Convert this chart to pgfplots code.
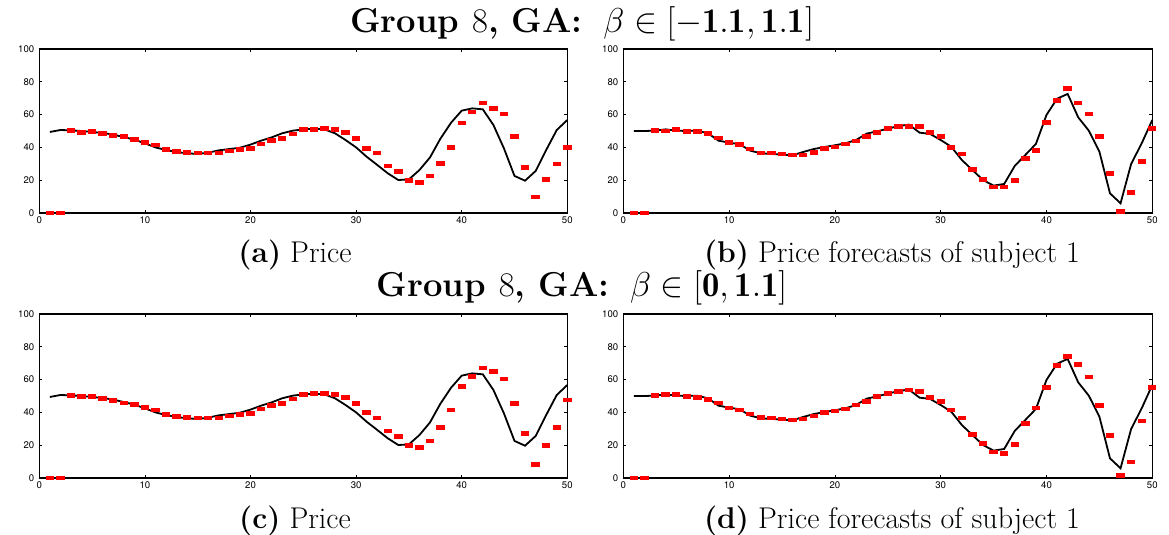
\documentclass[border=0pt]{standalone}
\usepackage{pgfplots}
\pgfplotsset{compat=1.18}
\usepackage{fontspec}
\newfontfamily\tickfont{TeX Gyre Heros}
\pgfdeclareplotmark{rbar}{\pgfpathrectangle{\pgfpoint{-2.1pt}{-1.1pt}}{\pgfpoint{4.2pt}{2.2pt}}\pgfusepathqfill}
\pgfplotsset{panel/.style={
  scale only axis, width=264pt, height=82pt, anchor=south west,
  xmin=0, xmax=50, ymin=0, ymax=100,
  xtick={0,10,...,50}, ytick={0,20,...,100},
  tick align=inside, major tick length=1.5pt,
  tick style={black, line width=0.4pt},
  axis line style={line width=0.6pt},
  tick label style={font=\tickfont\fontsize{4.8}{5}\selectfont},
  /pgf/number format/assume math mode=true,
  xticklabel style={yshift=1.5pt},
  yticklabel style={xshift=1pt},
  clip=false,
}}
\pgfplotstableread{
x y
1 49.4
2 50.6
3 50.4
4 50.0
5 49.4
6 48.8
7 47.8
8 46.3
9 44.7
10 42.5
11 40.0
12 38.4
13 37.2
14 36.4
15 36.0
16 36.8
17 38.2
18 39.0
19 39.8
20 41.7
21 44.1
22 46.1
23 48.6
24 50.2
25 51.0
26 51.4
27 51.0
28 48.6
29 44.5
30 40.0
31 34.3
32 29.3
33 24.2
34 20.1
35 20.5
36 26.2
37 33.9
38 45.5
39 55.1
40 62.4
41 63.8
42 63.2
43 53.7
44 39.4
45 22.6
46 19.7
47 25.6
48 38.4
49 50.6
50 56.7
}\priceline
\pgfplotstableread{
x y
1 50.0
2 50.0
3 50.2
4 51.0
5 50.2
6 50.0
7 50.2
8 48.6
9 44.1
10 42.9
11 41.9
12 38.0
13 36.4
14 36.0
15 35.6
16 35.2
17 37.2
18 39.0
19 40.2
20 41.3
21 42.5
22 44.5
23 48.4
24 49.8
25 51.4
26 53.0
27 53.9
28 49.0
29 48.2
30 44.5
31 40.4
32 32.3
33 26.2
34 20.1
35 16.7
36 17.7
37 28.7
38 35.4
39 42.1
40 59.8
41 69.7
42 72.6
43 58.3
44 50.2
45 37.4
46 12.0
47 5.9
48 29.9
49 42.5
50 56.7
}\forecastline
\pgfplotstableread{
x y
1 0
2 0
3 50.4
4 49.2
5 49.8
6 48.4
7 47.2
8 46.7
9 44.9
10 43.1
11 41.3
12 38.8
13 37.6
14 36.8
15 36.4
16 36.4
17 36.4
18 37.8
19 38.8
20 39.4
21 41.9
22 44.3
23 45.5
24 48.0
25 51.0
26 51.0
27 51.6
28 51.0
29 49.2
30 45.5
31 39.4
32 36.4
33 28.5
34 25.4
35 19.9
36 18.7
37 22.4
38 30.3
39 40.0
40 54.7
41 61.4
42 66.9
43 63.8
44 60.2
45 46.7
46 27.8
47 9.6
48 20.5
49 29.7
50 40.0
}\reda
\pgfplotstableread{
x y
1 0
2 0
3 50.4
4 50.0
5 50.8
6 49.8
7 49.8
8 48.4
9 45.9
10 43.1
11 41.7
12 39.2
13 36.4
14 36.4
15 35.8
16 35.2
17 35.2
18 37.0
19 39.4
20 40.2
21 41.9
22 43.9
23 46.7
24 49.2
25 51.6
26 52.8
27 52.8
28 52.8
29 49.2
30 46.7
31 40.0
32 35.8
33 26.6
34 20.5
35 15.9
36 15.9
37 19.9
38 33.3
39 38.2
40 55.3
41 68.7
42 76.0
43 66.9
44 60.2
45 46.7
46 24.2
47 0.8
48 12.6
49 31.5
50 51.6
}\redb
\pgfplotstableread{
x y
1 0
2 0
3 50.4
4 49.8
5 49.8
6 48.4
7 47.2
8 45.9
9 44.9
10 43.1
11 41.3
12 38.8
13 37.6
14 36.8
15 36.4
16 36.4
17 36.4
18 37.8
19 38.8
20 39.4
21 41.9
22 44.3
23 45.5
24 48.0
25 51.0
26 51.6
27 51.6
28 51.0
29 49.2
30 45.5
31 40.0
32 36.4
33 28.5
34 25.4
35 19.9
36 18.7
37 22.4
38 30.9
39 41.3
40 55.9
41 62.0
42 66.9
43 65.0
44 60.2
45 45.5
46 27.2
47 8.3
48 19.9
49 30.9
50 47.4
}\redc
\pgfplotstableread{
x y
1 0
2 0
3 50.4
4 51.0
5 50.8
6 49.8
7 49.2
8 47.8
9 45.9
10 42.5
11 41.3
12 39.2
13 37.0
14 36.4
15 35.8
16 35.2
17 35.8
18 37.8
19 40.0
20 40.9
21 41.9
22 44.5
23 46.7
24 49.8
25 51.6
26 52.8
27 53.5
28 52.8
29 49.2
30 46.7
31 41.3
32 36.4
33 26.6
34 21.1
35 15.9
36 15.0
37 20.5
38 33.3
39 42.5
40 55.3
41 68.7
42 74.2
43 69.3
44 61.4
45 44.3
46 26.0
47 1.6
48 9.6
49 34.6
50 55.3
}\redd
\begin{document}
\begin{tikzpicture}
\path[use as bounding box] (0,0) rectangle (584.5pt,267.5pt);
\begin{axis}[panel, at={(19.65pt,161pt)}]
\addplot[black, line width=0.9pt] table[x=x,y=y] {\priceline};
\addplot[only marks, mark=rbar, red] table[x=x,y=y] {\reda};
\end{axis}
\begin{axis}[panel, at={(311.65pt,161pt)}, width=264.5pt]
\addplot[black, line width=0.9pt] table[x=x,y=y] {\forecastline};
\addplot[only marks, mark=rbar, red] table[x=x,y=y] {\redb};
\end{axis}
\begin{axis}[panel, at={(19.65pt,28.5pt)}]
\addplot[black, line width=0.9pt] table[x=x,y=y] {\priceline};
\addplot[only marks, mark=rbar, red] table[x=x,y=y] {\redc};
\end{axis}
\begin{axis}[panel, at={(311.65pt,28.5pt)}, width=264.5pt]
\addplot[black, line width=0.9pt] table[x=x,y=y] {\forecastline};
\addplot[only marks, mark=rbar, red] table[x=x,y=y] {\redd};
\end{axis}
\node[anchor=base, font=\fontsize{17.28}{19}\selectfont] at (291pt,251.3pt) {\textbf{Group $8$, GA:}\ \ $\beta\in[\mathbf{-1.1},\mathbf{1.1}]$};
\node[anchor=base, font=\fontsize{17.28}{19}\selectfont] at (291pt,119pt) {\textbf{Group $8$, GA:}\ \ $\beta\in[\mathbf{0},\mathbf{1.1}]$};
\node[anchor=base, font=\fontsize{15}{17}\selectfont] at (147.5pt,136pt) {\textbf{(a)}\ Price};
\node[anchor=base, font=\fontsize{15}{17}\selectfont] at (446pt,136pt) {\textbf{(b)}\ Price forecasts of subject 1};
\node[anchor=base, font=\fontsize{15}{17}\selectfont] at (147.5pt,3pt) {\textbf{(c)}\ Price};
\node[anchor=base, font=\fontsize{15}{17}\selectfont] at (446pt,3pt) {\textbf{(d)}\ Price forecasts of subject 1};
\end{tikzpicture}
\end{document}
